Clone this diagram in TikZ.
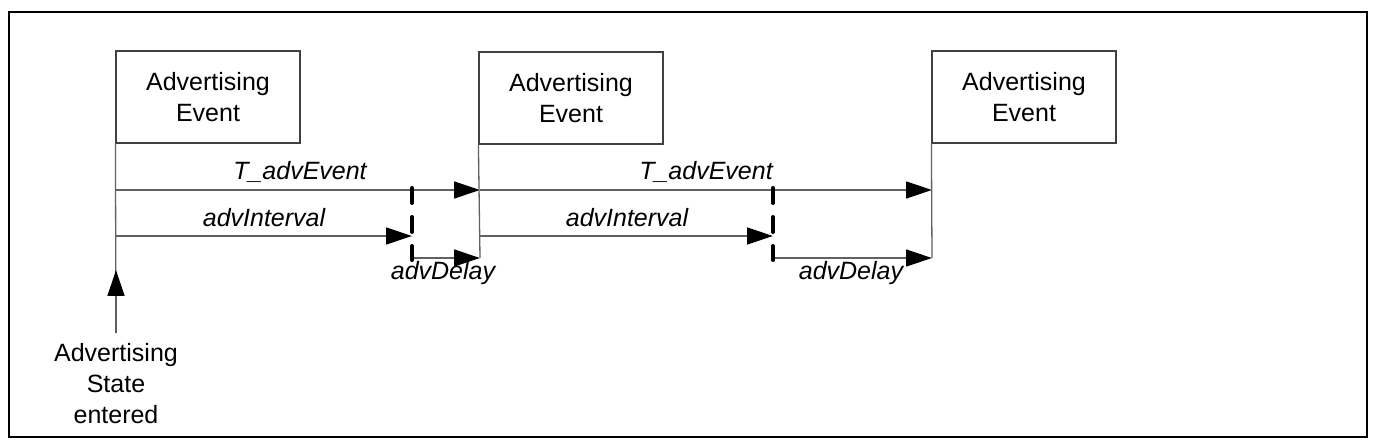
\documentclass[tikz,border=0pt]{standalone}
\usepackage{fontspec}
\setmainfont{Liberation Sans}
\usetikzlibrary{arrows.meta}

\definecolor{linegray}{gray}{0.38}

\tikzset{
  evbox/.style={draw=black!75, line width=1.2pt, minimum width=184pt,
    minimum height=92pt, align=center, inner sep=0pt,
    font=\fontsize{25}{31}\selectfont},
  tline/.style={draw=linegray, line width=1.3pt},
  tarrow/.style={tline, -{Triangle[length=26pt,width=17pt,fill=black,color=black]}},
  delayline/.style={draw=black, line width=4pt, line cap=round,
    dash pattern=on 15pt off 14pt},
  lbl/.style={font=\fontsize{25}{31}\selectfont\itshape, inner sep=0pt, anchor=base}
}

\begin{document}
\begin{tikzpicture}[x=1pt,y=-1pt]
\useasboundingbox (0,0) rectangle (1379,446);

% Outer frame
\draw[line width=2pt] (9,12) rectangle (1367,437);

% The three advertising events
\node[evbox] (ev1) at (208,97) {Advertising\\Event};
\node[evbox] (ev2) at (571,98) {Advertising\\Event};
\node[evbox] (ev3) at (1024,97) {Advertising\\Event};

% Where the advertising state is entered
\node[font=\fontsize{25}{31}\selectfont, align=center, inner sep=0pt,
  anchor=north] (enter) at (116,343) {Advertising\\State\\entered};
\coordinate (E0) at (116,333);
\coordinate (E1) at (116,270);
\draw[tline] (ev1.south west) -- (E0);
\draw[tarrow] (E0) -- (E1);

% First interval
\coordinate (T1s) at (116,190);
\coordinate (T1e) at (480,190);
\coordinate (I1s) at (116,236);
\coordinate (I1e) at (412,236);
\coordinate (D1t) at (412,188);
\coordinate (D1b) at (412,260);
\coordinate (D1s) at (412,258);
\coordinate (D1e) at (480,258);
\draw[tarrow] (T1s) -- (T1e);
\draw[tarrow] (I1s) -- (I1e);
\draw[tarrow] (D1s) -- (D1e);
\draw[delayline] (D1t) -- (D1b);
\draw[tline] (ev2.south west) -- (D1e);

% Second interval
\coordinate (T2e) at (932,190);
\coordinate (I2s) at (480,236);
\coordinate (I2e) at (773,236);
\coordinate (D2t) at (773,188);
\coordinate (D2b) at (773,260);
\coordinate (D2s) at (773,258);
\coordinate (D2e) at (932,258);
\draw[tarrow] (T1e) -- (T2e);
\draw[tarrow] (I2s) -- (I2e);
\draw[tarrow] (D2s) -- (D2e);
\draw[delayline] (D2t) -- (D2b);
\draw[tline] (ev3.south west) -- (D2e);

% Labels of the intervals
\node[lbl] (tev1) at (300,180) {T\_advEvent};
\node[lbl] (int1) at (264,227) {advInterval};
\node[lbl] (del1) at (443,280) {advDelay};
\node[lbl] (tev2) at (706,180) {T\_advEvent};
\node[lbl] (int2) at (627,227) {advInterval};
\node[lbl] (del2) at (851,280) {advDelay};
\end{tikzpicture}
\end{document}
